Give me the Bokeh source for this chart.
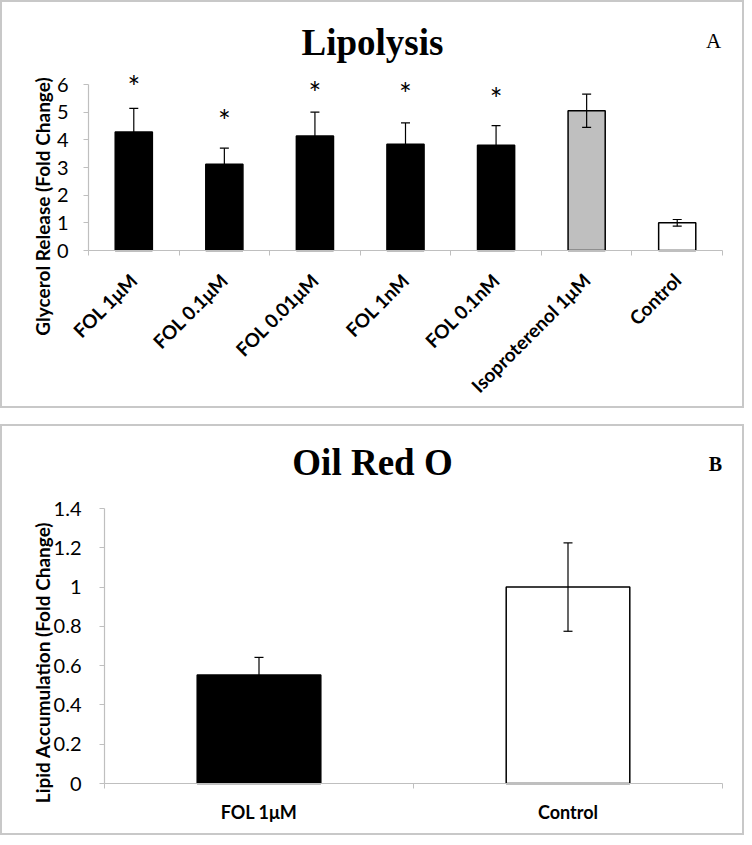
import math
from bokeh.plotting import figure
from bokeh.models import (ColumnDataSource, Range1d, FixedTicker, Whisker, TeeHead, Label)
from bokeh.layouts import column
from bokeh.core.properties import value
from bokeh.embed import file_html
from bokeh.resources import INLINE

# ---------------- data ----------------
lipo_categories = ["FOL 1μM", "FOL 0.1μM", "FOL 0.01μM", "FOL 1nM", "FOL 0.1nM",
                   "Isoproterenol 1μM", "Control"]
lipo_means = [4.28, 3.12, 4.14, 3.84, 3.80, 5.05, 1.00]
lipo_err = [0.86, 0.58, 0.86, 0.77, 0.71, 0.60, 0.12]
lipo_colors = ["black", "black", "black", "black", "black", "#bfbfbf", "white"]
lipo_sig_idx = [0, 1, 2, 3, 4]
lipo_sig_y = [6.22, 5.01, 6.02, 5.97, 5.80]
lipo_yticks = [0, 1, 2, 3, 4, 5, 6]

oro_categories = ["FOL 1μM", "Control"]
oro_means = [0.552, 1.00]
oro_err = [0.09, 0.225]
oro_colors = ["black", "white"]
oro_yticks = [0, 0.2, 0.4, 0.6, 0.8, 1.0, 1.2, 1.4]
oro_ylabels = ["0", "0.2", "0.4", "0.6", "0.8", "1", "1.2", "1.4"]

SANS = "Lato"
SERIF = "Liberation Serif"
AXIS_GRAY = "#bfbfbf"
W = 744


def make_panel(H, left_px, right_px, top_px, bottom_px, cats, means, errs, colors,
               yticks, ylabels, bar_width):
    """Frame covers the whole canvas; axes drawn at fixed locations inside it."""
    n = len(cats)
    xs = [i + 1 for i in range(n)]
    bounds = [i + 0.5 for i in range(n + 1)]
    ppx = (right_px - left_px) / n
    x_start = 0.5 - left_px / ppx
    x_end = n + 0.5 + (W - right_px) / ppx
    y0, y1 = yticks[0], yticks[-1]
    ppy = (bottom_px - top_px) / (y1 - y0)
    y_start = y0 - (H - bottom_px) / ppy
    y_end = y1 + top_px / ppy

    p = figure(width=W, height=H, output_backend="svg", toolbar_location=None,
               x_range=Range1d(x_start, x_end), y_range=Range1d(y_start, y_end),
               min_border=0, min_border_left=0, min_border_right=0,
               min_border_top=0, min_border_bottom=0)
    p.xgrid.visible = False
    p.ygrid.visible = False
    p.outline_line_color = "#c8c8c8"
    p.outline_line_width = 3

    src = ColumnDataSource(dict(
        x=xs, top=means, color=colors,
        upper=[m + e for m, e in zip(means, errs)],
        lower=[m - e for m, e in zip(means, errs)],
    ))
    p.vbar(x="x", top="top", width=bar_width, source=src, fill_color="color",
           line_color="black", line_width=1.5)
    wh = Whisker(base="x", upper="upper", lower="lower", source=src, level="overlay",
                 line_color="black", line_width=1.2,
                 upper_head=TeeHead(size=9, line_color="black", line_width=1.2),
                 lower_head=TeeHead(size=9, line_color="black", line_width=1.2))
    p.add_layout(wh)

    xa = p.xaxis[0]
    xa.fixed_location = y0
    xa.bounds = (0.5, n + 0.5)
    xa.ticker = FixedTicker(ticks=xs, minor_ticks=bounds)
    xa.major_label_overrides = {c: l for c, l in zip(xs, cats)}
    xa.major_tick_out = 0
    xa.major_tick_in = 0
    xa.minor_tick_out = 5
    xa.minor_tick_in = 0
    xa.minor_tick_line_color = AXIS_GRAY
    xa.axis_line_color = AXIS_GRAY
    xa.axis_line_width = 1.2
    xa.major_label_text_font = SANS
    xa.major_label_text_font_style = "bold"
    xa.major_label_text_color = "black"

    ya = p.yaxis[0]
    ya.fixed_location = 0.5
    ya.bounds = (y0, y1)
    ya.ticker = FixedTicker(ticks=yticks, minor_ticks=[])
    ya.major_label_overrides = {t: l for t, l in zip(yticks, ylabels)}
    ya.major_tick_out = 5
    ya.major_tick_in = 0
    ya.major_tick_line_color = AXIS_GRAY
    ya.axis_line_color = AXIS_GRAY
    ya.axis_line_width = 1.2
    ya.major_label_text_font = SANS
    ya.major_label_text_font_size = "20px"
    ya.major_label_text_color = "black"
    ya.major_label_standoff = 15
    return p, xs


def add_text(p, H, x, y_from_top, text, font, size, style="normal", angle=0.0,
             align="center", baseline="alphabetic"):
    p.add_layout(Label(x=x, y=H - y_from_top, x_units="screen", y_units="screen",
                       text=text, text_font=font, text_font_style=style,
                       text_font_size=size, text_color="black", angle=angle,
                       text_align=align, text_baseline=baseline))


# ---------------- panel A ----------------
H1 = 408
p1, x1 = make_panel(H1, 88, 722, 84, 250, lipo_categories, lipo_means, lipo_err,
                    lipo_colors, lipo_yticks, [str(t) for t in lipo_yticks], 0.41)
p1.xaxis[0].major_label_orientation = math.pi / 4
p1.xaxis[0].major_label_text_font_size = "19px"
p1.xaxis[0].major_label_standoff = 21
p1.text(x=[x1[i] for i in lipo_sig_idx], y=lipo_sig_y, text=["*"] * len(lipo_sig_idx),
        text_align="center", text_baseline="middle", text_font=value(SANS),
        text_font_size="30px", text_color="black", y_offset=8)
add_text(p1, H1, 372, 42, "Lipolysis", SERIF, "37px", "bold")
add_text(p1, H1, 713, 40, "A", SERIF, "21px")
add_text(p1, H1, 42, 206, "Glycerol Release (Fold Change)", SANS, "19px", "bold",
         angle=math.pi / 2, baseline="middle")

# ---------------- panel B ----------------
H2 = 411
p2, x2 = make_panel(H2, 104, 722, 84, 359, oro_categories, oro_means, oro_err,
                    oro_colors, oro_yticks, oro_ylabels, 0.40)
p2.xaxis[0].major_label_text_font_size = "18px"
p2.xaxis[0].major_label_standoff = 12
p2.yaxis[0].major_label_standoff = 18
add_text(p2, H2, 372, 38, "Oil Red O", SERIF, "37px", "bold")
add_text(p2, H2, 715, 39, "B", SERIF, "20px", "bold")
add_text(p2, H2, 42, 238, "Lipid Accumulation (Fold Change)", SANS, "19px", "bold",
         angle=math.pi / 2, baseline="middle")

layout = column(p1, p2, spacing=16)
open("out.html", "w").write(file_html(layout, INLINE))
